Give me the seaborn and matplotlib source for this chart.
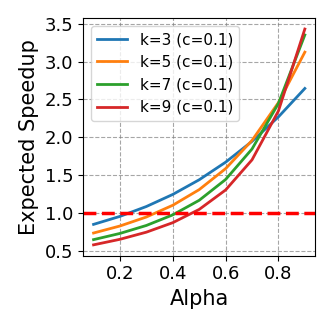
import matplotlib
matplotlib.use("Agg")
import matplotlib.pyplot as plt
import seaborn as sns
import pandas as pd

alpha = [0.1, 0.2, 0.3, 0.4, 0.5, 0.6, 0.7, 0.8, 0.9]
k3 = [0.8546, 0.9600, 1.0900, 1.2492, 1.4423, 1.6738, 1.9485, 2.2708, 2.6454]
k5 = [0.7407, 0.8333, 0.9517, 1.1066, 1.3125, 1.5889, 1.9608, 2.4595, 3.1237]
k7 = [0.6536, 0.7353, 0.8403, 0.9798, 1.1719, 1.4459, 1.8478, 2.4477, 3.3502]
k9 = [0.5848, 0.6579, 0.7519, 0.8771, 1.0516, 1.3078, 1.7048, 2.3490, 3.4280]
labels = ["k=3 (c=0.1)", "k=5 (c=0.1)", "k=7 (c=0.1)", "k=9 (c=0.1)"]
series = [k3, k5, k7, k9]

rows = []
for lab, vals in zip(labels, series):
    for a, v in zip(alpha, vals):
        rows.append({"Alpha": a, "Expected Speedup": v, "series": lab})
df = pd.DataFrame(rows)

fig, ax = plt.subplots(figsize=(3.32, 3.32), dpi=100)
sns.lineplot(data=df, x="Alpha", y="Expected Speedup", hue="series",
             palette=["#1f77b4", "#ff7f0e", "#2ca02c", "#d62728"],
             linewidth=2, ax=ax)
ax.axhline(1.0, color="red", linestyle="--", linewidth=2.5)
ax.grid(True, linestyle="--", color="gray", alpha=0.7, linewidth=0.8)
ax.set_xticks([0.2, 0.4, 0.6, 0.8])
ax.set_yticks([0.5, 1.0, 1.5, 2.0, 2.5, 3.0, 3.5])
ax.tick_params(labelsize=13)
ax.set_xlabel("Alpha", fontsize=15)
ax.set_ylabel("Expected Speedup", fontsize=15)
ax.legend(title=None, fontsize=11, loc="upper left")
fig.subplots_adjust(left=0.25, right=0.95, bottom=0.23, top=0.945)
fig.savefig("out.png", dpi=100)
